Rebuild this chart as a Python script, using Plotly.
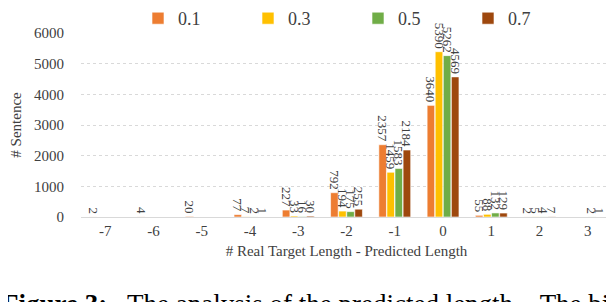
import plotly.graph_objects as go

categories = ["-7", "-6", "-5", "-4", "-3", "-2", "-1", "0", "1", "2", "3"]
series_names = ["0.1", "0.3", "0.5", "0.7"]
s01 = [2, 4, 20, 77, 227, 792, 2357, 3640, 55, 2, None]
s03 = [None, None, None, 7, 33, 194, 1459, 5390, 88, 5, None]
s05 = [None, None, None, 2, 16, 175, 1583, 5262, 132, 4, 2]
s07 = [None, None, None, 1, 30, 255, 2184, 4569, 129, 7, 1]
colors = ["#ED7D31", "#FFC000", "#70AD47", "#9E480E"]
y_ticks = [0, 1000, 2000, 3000, 4000, 5000, 6000]

FONT = "Times New Roman, Liberation Serif, serif"
# page body has an 8px margin: figure drawn at (8, 8)
W, H = 606, 294
L, R, T, B = 73, 2, 25, 85
PW, PH = W - L - R, H - T - B

fig = go.Figure()
for name, vals, col in zip(series_names, [s01, s03, s05, s07], colors):
    fig.add_trace(go.Bar(
        x=categories, y=vals, name=name,
        marker=dict(color=col, line=dict(color="rgba(255,255,255,0.6)", width=1)),
        text=[("" if v is None else str(v)) for v in vals],
        textposition="outside", textangle=90, constraintext="none",
        textfont=dict(family=FONT, size=13, color="#404040"),
        cliponaxis=False,
    ))

fig.update_layout(
    width=W, height=H,
    margin=dict(l=L, r=R, t=T, b=B, autoexpand=False),
    barmode="group", bargap=0.33, bargroupgap=0.06,
    plot_bgcolor="white", paper_bgcolor="white",
    font=dict(family=FONT, color="#404040"),
    legend=dict(orientation="h", x=(130 - L) / PW, xanchor="left",
                y=1 + (T + 8) / PH, yanchor="top", entrywidth=65,
                font=dict(family=FONT, size=18, color="#404040"),
                itemwidth=30, bgcolor="rgba(0,0,0,0)"),
    xaxis=dict(tickfont=dict(family=FONT, size=15, color="#404040"),
               showline=True, linecolor="#D9D9D9", linewidth=1, ticks="",
               automargin=False,
               title=dict(text="# Real Target Length - Predicted Length",
                          font=dict(family=FONT, size=15, color="#404040"), standoff=7)),
    yaxis=dict(range=[0, 6000], tickvals=y_ticks, ticktext=[str(v) for v in y_ticks],
               tickfont=dict(family=FONT, size=15, color="#404040"),
               showgrid=True, gridcolor="#D9D9D9", griddash="dot", gridwidth=1,
               zeroline=False, ticks="", ticklabelstandoff=16, automargin=False,
               title=dict(text="# Sentence", font=dict(family=FONT, size=15, color="#404040"),
                          standoff=9)),
    showlegend=True,
)

fig.add_annotation(
    text="<b>Figure 3:</b>   The analysis of the predicted length.   The bi",
    xref="paper", yref="paper", x=(-8 - L) / PW, xanchor="left",
    y=(T + PH - 279) / PH, yanchor="top",
    showarrow=False, font=dict(family=FONT, size=27, color="#000000"),
)
fig.write_html("out.html")
